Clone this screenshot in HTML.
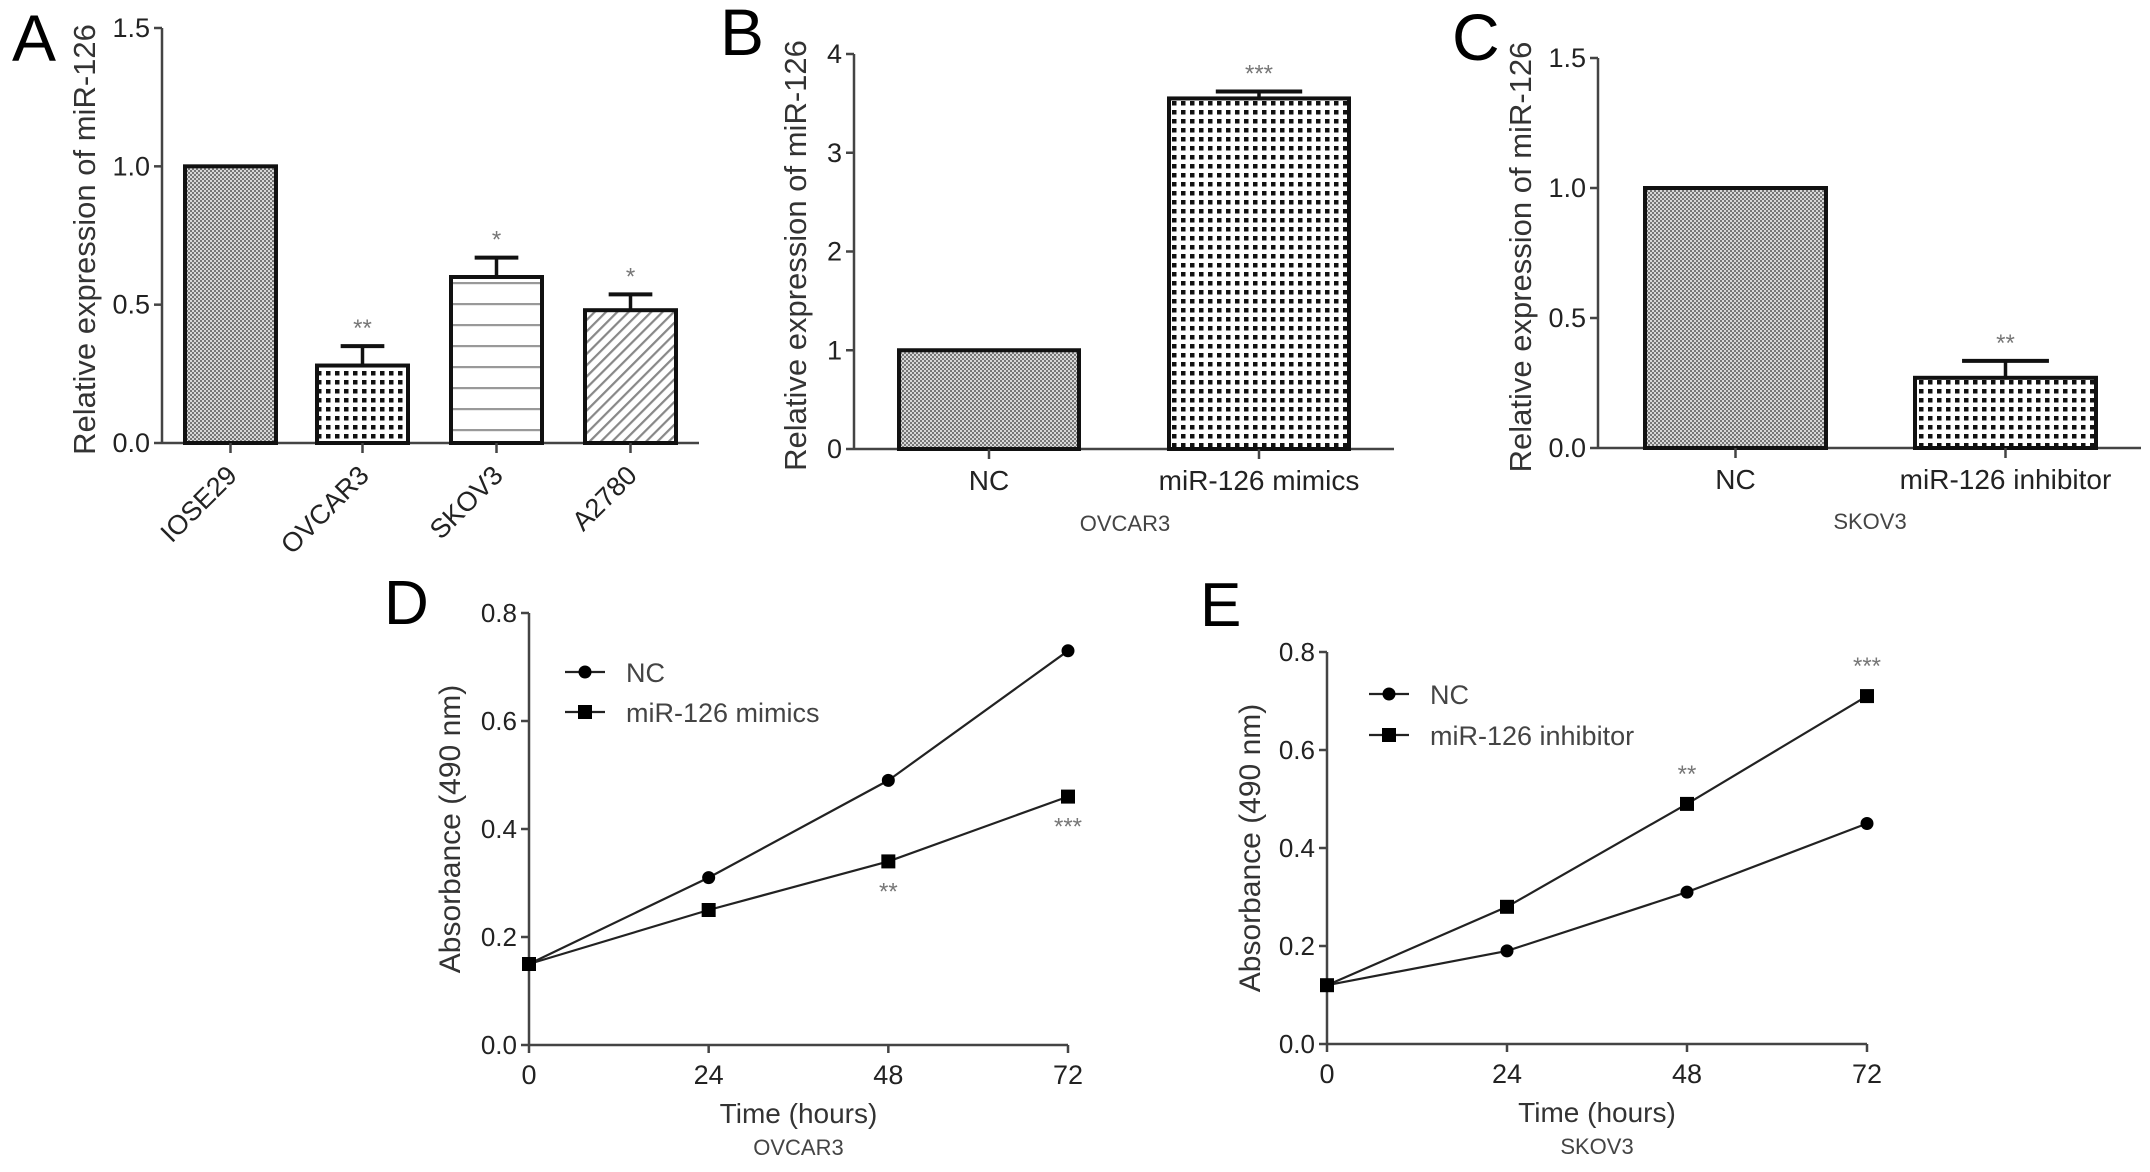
<!DOCTYPE html>
<html><head><meta charset="utf-8"><style>
html,body{margin:0;padding:0;background:#fff;overflow:hidden;}
svg{display:block;font-family:"Liberation Sans",Arial,sans-serif;}
</style></head><body>
<svg id="fig" width="2150" height="1172" viewBox="0 0 2150 1172">
<defs>
<pattern id="pFine" width="4" height="4" patternUnits="userSpaceOnUse"><rect width="4" height="4" fill="#d8d8d8"/><rect width="2" height="2" fill="#777"/><rect x="2" y="2" width="2" height="2" fill="#777"/></pattern>
<pattern id="pCoarse" width="9" height="9" patternUnits="userSpaceOnUse"><rect width="9" height="9" fill="#fff"/><rect x="2" y="2" width="4.5" height="4.5" fill="#111"/></pattern>
<pattern id="pHoriz" width="10" height="21" patternUnits="userSpaceOnUse"><rect width="10" height="21" fill="#fff"/><rect y="9" width="10" height="2.2" fill="#999"/></pattern>
<pattern id="pDiag" width="8" height="8" patternUnits="userSpaceOnUse" patternTransform="rotate(45)"><rect width="8" height="8" fill="#fff"/><rect width="2.2" height="8" fill="#888"/></pattern>
</defs>
<g id="root"></g>
</svg>
<script>
// Panel A data
const aCats = ["IOSE29","OVCAR3","SKOV3","A2780"];
const aVals = [1.0,0.28,0.60,0.48];
const aErrs = [0,0.07,0.07,0.057];
const aStars = ["","**","*","*"];
const aTicks = [0.0,0.5,1.0,1.5];
// Panel B
const bCats = ["NC","miR-126 mimics"];
const bVals = [1.0,3.55];
const bErrs = [0,0.07];
const bStars = ["","***"];
const bTicks = [0,1,2,3,4];
// Panel C
const cCats = ["NC","miR-126 inhibitor"];
const cVals = [1.0,0.27];
const cErrs = [0,0.065];
const cStars = ["","**"];
const cTicks = [0.0,0.5,1.0,1.5];
// Panel D
const timePoints = [0,24,48,72];
const dNC = [0.15,0.31,0.49,0.73];
const dMimics = [0.15,0.25,0.34,0.46];
const dStars = ["","","**","***"];
// Panel E
const eNC = [0.12,0.19,0.31,0.45];
const eInhib = [0.12,0.28,0.49,0.71];
const eStars = ["","","**","***"];
const lineYTicks = [0.0,0.2,0.4,0.6,0.8];

const NS="http://www.w3.org/2000/svg";
const root=document.getElementById('root');
function mk(tag,attrs,parent,txt){const e=document.createElementNS(NS,tag);for(const k in attrs)e.setAttribute(k,attrs[k]);if(txt!==undefined)e.textContent=txt;(parent||root).appendChild(e);return e;}

function barPanel(o){
  const g=mk('g',{});
  
  
  const y=v=>o.y0-(v-o.ymin)/(o.ymax-o.ymin)*(o.y0-o.y1);
  const ya=mk('line',{x1:o.ax,y1:o.y1,x2:o.ax,y2:o.y0,stroke:'#444','stroke-width':2.5},g);
  
  const xa=mk('line',{x1:o.ax,y1:o.y0,x2:o.xEnd,y2:o.y0,stroke:'#444','stroke-width':2.5},g);
  
  o.ticks.forEach(t=>{
    mk('line',{x1:o.ax-8,y1:y(t),x2:o.ax,y2:y(t),stroke:'#444','stroke-width':2.5},g);
    const tl=mk('text',{x:o.ax-12,y:y(t)+9,'text-anchor':'end','font-size':27,fill:'#222'},g,o.fmt(t));
    
  });
  o.cats.forEach((c,i)=>{
    const x0=o.barX[i], w=o.barW, cx=x0+w/2;
    const top=y(o.vals[i]);
    if(o.errs[i]>0){
      const et=y(o.vals[i]+o.errs[i]);
      mk('line',{x1:cx,y1:top,x2:cx,y2:et,stroke:'#111','stroke-width':3.5},g);
      mk('line',{x1:cx-w*0.24,y1:et,x2:cx+w*0.24,y2:et,stroke:'#111','stroke-width':4},g);
      if(o.stars[i]){const s=mk('text',{x:cx,y:et-10,'text-anchor':'middle','font-size':24,fill:'#777'},g,o.stars[i]);
        }
    }
    const r=mk('rect',{x:x0,y:top,width:w,height:o.y0-top,fill:'url(#'+o.fills[i]+')',stroke:'#111','stroke-width':4},g);
    
    
    mk('line',{x1:cx,y1:o.y0,x2:cx,y2:o.y0+10,stroke:'#444','stroke-width':2.5},g);
    let lab;
    if(o.rotate){lab=mk('text',{x:cx+8,y:o.y0+34,'text-anchor':'end','font-size':27,fill:'#222',transform:'rotate(-45 '+(cx+8)+' '+(o.y0+34)+')'},g,c);}
    else{lab=mk('text',{x:cx,y:o.y0+41,'text-anchor':'middle','font-size':28,fill:'#222'},g,c);}
    
  });
  const yc=(o.y0+o.y1)/2+4;
  const t=mk('text',{x:o.titleX,y:yc,'text-anchor':'middle','font-size':31,fill:'#333',transform:'rotate(-90 '+o.titleX+' '+yc+')'},g,'Relative expression of miR-126');
  
  const L=mk('text',{x:o.letterX,y:o.letterY,'font-size':66,fill:'#000'},g,o.letter);
  
  if(o.sub){const s=mk('text',{x:o.subX,y:o.subY,'text-anchor':'middle','font-size':22,fill:'#444'},g,o.sub);
    }
}

barPanel({name:'panel-a',cats:aCats,vals:aVals,errs:aErrs,stars:aStars,ticks:aTicks,ymin:0,ymax:1.5,ax:162,y0:443,y1:28,xEnd:699,
  barX:[185,317,451,585],barW:91,fills:['pFine','pCoarse','pHoriz','pDiag'],rotate:true,fmt:v=>v.toFixed(1),
  titleX:95,letter:'A',letterX:12,letterY:61});
barPanel({name:'panel-b',cats:bCats,vals:bVals,errs:bErrs,stars:bStars,ticks:bTicks,ymin:0,ymax:4,ax:854,y0:449,y1:54,xEnd:1394,
  barX:[899,1169],barW:180,fills:['pFine','pCoarse'],rotate:false,fmt:v=>String(v),
  titleX:806,letter:'B',letterX:720,letterY:55,sub:'OVCAR3',subX:1125,subY:531});
barPanel({name:'panel-c',cats:cCats,vals:cVals,errs:cErrs,stars:cStars,ticks:cTicks,ymin:0,ymax:1.5,ax:1598,y0:448,y1:58,xEnd:2141,
  barX:[1645,1915],barW:181,fills:['pFine','pCoarse'],rotate:false,fmt:v=>v.toFixed(1),
  titleX:1531,letter:'C',letterX:1452,letterY:60,sub:'SKOV3',subX:1870,subY:529});

function linePanel(o){
  const g=mk('g',{});
  
  
  const x=t=>o.ax+(t-0)/72*(o.xEnd-o.ax);
  const y=v=>o.y0-v/0.8*(o.y0-o.y1);
  const ya=mk('line',{x1:o.ax,y1:o.y1,x2:o.ax,y2:o.y0,stroke:'#444','stroke-width':2.5},g);
  
  const xa=mk('line',{x1:o.ax,y1:o.y0,x2:o.xEnd,y2:o.y0,stroke:'#444','stroke-width':2.5},g);
  
  lineYTicks.forEach(t=>{
    mk('line',{x1:o.ax-8,y1:y(t),x2:o.ax,y2:y(t),stroke:'#444','stroke-width':2.5},g);
    const tl=mk('text',{x:o.ax-12,y:y(t)+9,'text-anchor':'end','font-size':26,fill:'#222'},g,t.toFixed(1));
    
  });
  timePoints.forEach(t=>{
    mk('line',{x1:x(t),y1:o.y0,x2:x(t),y2:o.y0+8,stroke:'#444','stroke-width':2.5},g);
    const tl=mk('text',{x:x(t),y:o.y0+39,'text-anchor':'middle','font-size':27,fill:'#222'},g,String(t));
    
  });
  const series=[{v:o.s1,m:'circle',n:'nc-line'},{v:o.s2,m:'square',n:o.s2name}];
  series.forEach(s=>{
    const pl=mk('polyline',{points:s.v.map((v,i)=>x(timePoints[i])+','+y(v)).join(' '),fill:'none',stroke:'#222','stroke-width':2.2},g);
    
    s.v.forEach((v,i)=>{
      let p;
      if(s.m==='circle')p=mk('circle',{cx:x(timePoints[i]),cy:y(v),r:6.5,fill:'#000'},g);
      else p=mk('rect',{x:x(timePoints[i])-7,y:y(v)-7,width:14,height:14,fill:'#000'},g);
      
    });
  });
  o.stars.forEach((s,i)=>{ if(!s)return;
    const sy=o.starAbove?y(o.s2[i])-22:y(o.s2[i])+38;
    const st=mk('text',{x:x(timePoints[i]),y:sy,'text-anchor':'middle','font-size':24,fill:'#777'},g,s);
    
  });
  const lg=mk('g',{},g);
  mk('line',{x1:o.legX-20,y1:o.legY,x2:o.legX+20,y2:o.legY,stroke:'#222','stroke-width':2.2},lg);
  mk('circle',{cx:o.legX,cy:o.legY,r:6.5,fill:'#000'},lg);
  const l1=mk('text',{x:o.legX+41,y:o.legY+10,'font-size':27,fill:'#444'},lg,'NC');
  
  mk('line',{x1:o.legX-20,y1:o.legY+o.legGap,x2:o.legX+20,y2:o.legY+o.legGap,stroke:'#222','stroke-width':2.2},lg);
  mk('rect',{x:o.legX-7,y:o.legY+o.legGap-7,width:14,height:14,fill:'#000'},lg);
  const l2=mk('text',{x:o.legX+41,y:o.legY+o.legGap+10,'font-size':27,fill:'#444'},lg,o.s2label);
  
  const yc=(o.y0+o.y1)/2;
  const t=mk('text',{x:o.titleX,y:yc,'text-anchor':'middle','font-size':30,fill:'#333',transform:'rotate(-90 '+o.titleX+' '+yc+')'},g,'Absorbance  (490 nm)');
  
  const xt=mk('text',{x:(o.ax+o.xEnd)/2,y:o.y0+78,'text-anchor':'middle','font-size':28,fill:'#333'},g,'Time (hours)');
  
  const sb=mk('text',{x:(o.ax+o.xEnd)/2,y:o.y0+110,'text-anchor':'middle','font-size':22,fill:'#444'},g,o.sub);
  
  const L=mk('text',{x:o.letterX,y:o.letterY,'font-size':62,fill:'#000'},g,o.letter);
  
}
linePanel({name:'panel-d',s1:dNC,s2:dMimics,s2name:'mimics-line',s2label:'miR-126 mimics',stars:dStars,starAbove:false,
  ax:529,y0:1045,y1:613,xEnd:1068,legX:585,legY:672,legGap:40,titleX:460,sub:'OVCAR3',letter:'D',letterX:384,letterY:624});
linePanel({name:'panel-e',s1:eNC,s2:eInhib,s2name:'inhibitor-line',s2label:'miR-126 inhibitor',stars:eStars,starAbove:true,
  ax:1327,y0:1044,y1:652,xEnd:1867,legX:1389,legY:694,legGap:41,titleX:1260,sub:'SKOV3',letter:'E',letterX:1200,letterY:626});
</script>
</body></html>
